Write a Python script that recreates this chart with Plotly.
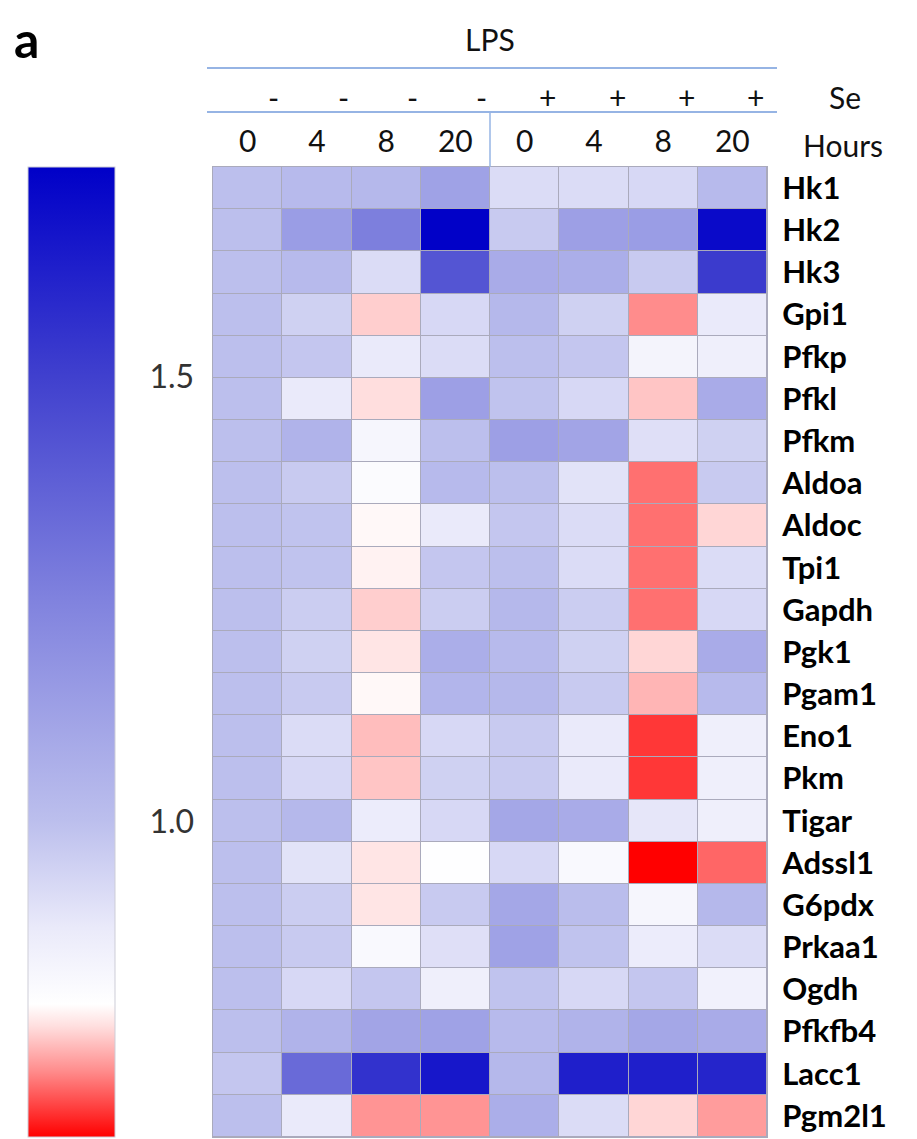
import plotly.graph_objects as go

genes = ["Hk1", "Hk2", "Hk3", "Gpi1", "Pfkp", "Pfkl", "Pfkm", "Aldoa", "Aldoc", "Tpi1",
         "Gapdh", "Pgk1", "Pgam1", "Eno1", "Pkm", "Tigar", "Adssl1", "G6pdx", "Prkaa1",
         "Ogdh", "Pfkfb4", "Lacc1", "Pgm2l1"]
hours = ["0", "4", "8", "20", "0", "4", "8", "20"]
se_signs = ["-", "-", "-", "-", "+", "+", "+", "+"]

values = [
    [1.00, 1.02, 1.03, 1.12, 0.92, 0.92, 0.93, 1.02],   # Hk1
    [1.00, 1.14, 1.26, 1.73, 0.97, 1.13, 1.14, 1.70],   # Hk2
    [1.00, 1.02, 0.92, 1.42, 1.08, 1.07, 0.97, 1.52],   # Hk3
    [1.00, 0.95, 0.76, 0.93, 1.03, 0.95, 0.72, 0.88],   # Gpi1
    [1.00, 0.98, 0.88, 0.92, 1.00, 0.98, 0.84, 0.86],   # Pfkp
    [1.00, 0.88, 0.77, 1.13, 0.99, 0.93, 0.755, 1.08],  # Pfkl
    [1.00, 1.05, 0.83, 1.00, 1.13, 1.11, 0.91, 0.95],   # Pfkm
    [1.00, 0.97, 0.81, 1.02, 1.00, 0.90, 0.705, 0.97],  # Aldoa
    [1.00, 0.99, 0.79, 0.88, 0.98, 0.92, 0.705, 0.765], # Aldoc
    [1.00, 0.99, 0.785, 0.98, 1.00, 0.92, 0.705, 0.92], # Tpi1
    [1.00, 0.96, 0.76, 0.96, 1.03, 0.96, 0.705, 0.93],  # Gapdh
    [1.00, 0.95, 0.775, 1.07, 1.02, 0.95, 0.765, 1.08], # Pgk1
    [1.00, 0.97, 0.79, 1.04, 1.03, 0.97, 0.745, 1.02],  # Pgam1
    [1.00, 0.92, 0.75, 0.93, 0.97, 0.88, 0.675, 0.86],  # Eno1
    [1.00, 0.93, 0.755, 0.95, 0.97, 0.88, 0.675, 0.86], # Pkm
    [1.00, 1.03, 0.87, 0.93, 1.10, 1.08, 0.89, 0.86],   # Tigar
    [1.00, 0.90, 0.775, 0.80, 0.93, 0.82, 0.646, 0.70], # Adssl1
    [1.00, 0.96, 0.775, 0.97, 1.10, 1.01, 0.83, 1.03],  # G6pdx
    [1.00, 0.97, 0.82, 0.91, 1.12, 0.99, 0.87, 0.92],   # Prkaa1
    [1.00, 0.93, 0.98, 0.86, 0.99, 0.93, 0.98, 0.85],   # Ogdh
    [1.00, 1.05, 1.11, 1.12, 1.02, 1.05, 1.10, 1.08],   # Pfkfb4
    [0.98, 1.34, 1.55, 1.65, 1.03, 1.62, 1.62, 1.60],   # Lacc1
    [1.00, 0.88, 0.725, 0.725, 1.07, 0.92, 0.765, 0.73],# Pgm2l1
]

cbar_ticks = [1.0, 1.5]
cbar_ticktext = ["1.0", "1.5"]

zmin, zmax = 0.646, 1.735
stops = [
    (0.646, "rgb(255,0,0)"),
    (0.72, "rgb(255,140,140)"),
    (0.77, "rgb(255,222,222)"),
    (0.795, "rgb(255,255,255)"),
    (0.88, "rgb(234,234,250)"),
    (1.00, "rgb(188,191,237)"),
    (1.25, "rgb(128,130,222)"),
    (1.50, "rgb(64,64,206)"),
    (1.735, "rgb(0,0,200)"),
]
colorscale = [[(v - zmin) / (zmax - zmin), c] for v, c in stops]

ncol = len(hours)
xs = list(range(ncol))

# page body has an 8px margin; figure is sized/placed to compensate
OFF = 8
PL, PR, PT, PB = 213, 767, 167, 1137   # plot area in window pixels
W, H = 917 - OFF, 1139 - OFF
pw, ph = PR - PL, PB - PT

def px(xw):
    return (xw - PL) / pw

def py(yw):
    return 1 + (PT - yw) / ph

fig = go.Figure(go.Heatmap(
    z=values, x=xs, y=genes,
    zmin=zmin, zmax=zmax, colorscale=colorscale,
    xgap=1, ygap=1,
    colorbar=dict(
        x=px(28), xanchor="left", xpad=0,
        y=1, yanchor="top", ypad=0,
        lenmode="pixels", len=ph,
        thicknessmode="pixels", thickness=87,
        tickvals=cbar_ticks, ticktext=cbar_ticktext,
        ticks="outside", ticklen=28, tickcolor="rgba(0,0,0,0)",
        tickfont=dict(family="Lato", size=32, color="#333333"),
        outlinecolor="rgb(205,205,215)", outlinewidth=1,
    ),
))

fig.update_layout(
    width=W, height=H,
    margin=dict(l=PL - OFF, r=W - (PR - OFF), t=PT - OFF, b=H - (PB - OFF)),
    paper_bgcolor="white",
    plot_bgcolor="rgb(170,170,188)",
    showlegend=False,
)
fig.update_xaxes(
    side="top", tickmode="array", tickvals=xs, ticktext=hours,
    tickfont=dict(family="Lato", size=30, color="#111111"),
    showgrid=False, zeroline=False, ticks="", ticklabelstandoff=2,
    range=[-0.5, ncol - 0.5],
    showline=True, mirror=True, linecolor="rgb(170,170,188)", linewidth=1,
)
fig.update_yaxes(
    side="right", autorange="reversed",
    tickfont=dict(family="Lato", size=31, color="#000000", weight="bold"),
    showgrid=False, zeroline=False, ticks="", ticklabelstandoff=8,
    showline=True, mirror=True, linecolor="rgb(170,170,188)", linewidth=1,
)

# faint inner tick marks on both edges of the colour bar
for v in cbar_ticks:
    yt = (v - zmin) / (zmax - zmin)
    for x0, x1 in ((28, 39), (104, 115)):
        fig.add_shape(type="line", xref="paper", yref="paper",
                      x0=px(x0), x1=px(x1), y0=yt, y1=yt,
                      line=dict(color="rgba(235,235,245,0.75)", width=1.5))

line_color = "rgb(150,180,228)"
y_line1 = py(68)
y_line2 = py(112)
for yl in (y_line1, y_line2):
    fig.add_shape(type="line", xref="paper", yref="paper",
                  x0=px(207), x1=px(777), y0=yl, y1=yl,
                  line=dict(color=line_color, width=2))
fig.add_shape(type="line", xref="x", yref="paper",
              x0=ncol / 2 - 0.5, x1=ncol / 2 - 0.5, y0=1.0, y1=y_line2,
              line=dict(color=line_color, width=1.5))

y_se = py(97)
for i, s in enumerate(se_signs):
    fig.add_annotation(x=i + 0.5, y=y_se, xref="x", yref="paper", text=s,
                       showarrow=False, xanchor="right", yanchor="middle", xshift=-1,
                       font=dict(family="Lato", size=30, color="#111111"))

fig.add_annotation(x=px(845), y=y_se, xref="paper", yref="paper", text="Se",
                   showarrow=False, xanchor="center", yanchor="middle",
                   font=dict(family="Lato", size=30, color="#111111"))
fig.add_annotation(x=px(843), y=py(145), xref="paper", yref="paper",
                   text="Hours", showarrow=False, xanchor="center", yanchor="middle",
                   font=dict(family="Lato", size=30, color="#111111"))
fig.add_annotation(x=ncol / 2 - 0.5, y=py(39), xref="x", yref="paper",
                   text="LPS", showarrow=False, xanchor="center", yanchor="middle",
                   font=dict(family="Lato", size=30, color="#111111"))
fig.add_annotation(x=px(13), y=py(OFF), xref="paper", yref="paper",
                   text="<b>a</b>", showarrow=False, xanchor="left", yanchor="top",
                   borderpad=0,
                   font=dict(family="Lato", size=50, color="#000000"))

fig.write_html("out.html")
